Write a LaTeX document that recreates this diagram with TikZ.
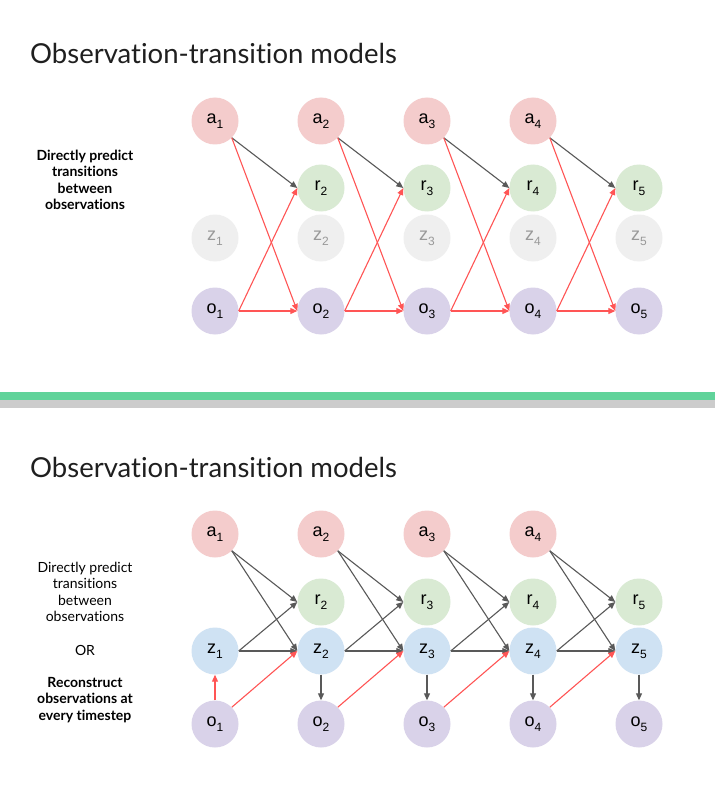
\documentclass[tikz,border=0pt]{standalone}
\usepackage{fontspec}
\setmainfont[Ligatures=NoCommon]{Lato}
\newfontfamily\varfont{Liberation Sans}
\usetikzlibrary{arrows.meta}

\definecolor{actpink}{HTML}{F4CCCC}
\definecolor{rewgreen}{HTML}{D9EAD3}
\definecolor{latgrey}{HTML}{EFEFEF}
\definecolor{latblue}{HTML}{CFE2F3}
\definecolor{obspurple}{HTML}{D9D2E9}
\definecolor{edgegrey}{HTML}{595959}
\definecolor{edgered}{HTML}{FF5555}
\definecolor{bargreen}{HTML}{60D39A}
\definecolor{bargrey}{HTML}{CCCCCC}

\newcommand{\vsub}[2]{#1\raisebox{-5pt}{\fontsize{12}{12}\selectfont #2}}

\tikzset{
	var/.style={circle,minimum size=47pt,inner sep=0pt,font=\varfont\fontsize{18}{18}\selectfont},
	act/.style={var,fill=actpink},
	rew/.style={var,fill=rewgreen},
	lat/.style={var,fill=latgrey,text=black!40},
	latb/.style={var,fill=latblue},
	obs/.style={var,fill=obspurple},
	edge/.style={-{Triangle[length=7pt,width=6pt]},color=edgegrey,line width=1.1pt},
	pred/.style={edge,color=edgered},
	title/.style={anchor=base west,inner sep=0pt,font=\fontsize{27.5}{27.5}\selectfont,text=black!88},
	note/.style={align=center,font=\fontsize{14}{16.5}\selectfont},
	boldnote/.style={note,font=\bfseries\fontsize{14}{16.5}\selectfont}
}

\begin{document}
\begin{tikzpicture}[x=1pt,y=-1pt]
		\useasboundingbox[fill=white] (0,0) rectangle (715,805);

		% upper slide
		\node[title] (title1) at (30,64) {Observation-transition models};
		\node[boldnote] (note1) at (85,180) {Directly predict\\transitions\\between\\observations};

		\node[act] (a1) at (215,121) {\vsub{a}{1}};
		\node[act] (a2) at (321,121) {\vsub{a}{2}};
		\node[act] (a3) at (427,121) {\vsub{a}{3}};
		\node[act] (a4) at (533,121) {\vsub{a}{4}};
		\node[rew] (r2) at (321,188) {\vsub{r}{2}};
		\node[rew] (r3) at (427,188) {\vsub{r}{3}};
		\node[rew] (r4) at (533,188) {\vsub{r}{4}};
		\node[rew] (r5) at (639,188) {\vsub{r}{5}};
		\node[lat] (z1) at (215,238) {\vsub{z}{1}};
		\node[lat] (z2) at (321,238) {\vsub{z}{2}};
		\node[lat] (z3) at (427,238) {\vsub{z}{3}};
		\node[lat] (z4) at (533,238) {\vsub{z}{4}};
		\node[lat] (z5) at (639,238) {\vsub{z}{5}};
		\node[obs] (o1) at (215,311) {\vsub{o}{1}};
		\node[obs] (o2) at (321,311) {\vsub{o}{2}};
		\node[obs] (o3) at (427,311) {\vsub{o}{3}};
		\node[obs] (o4) at (533,311) {\vsub{o}{4}};
		\node[obs] (o5) at (639,311) {\vsub{o}{5}};

		\draw[edge] (a1.south east) -- (r2.west);
		\draw[edge] (a2.south east) -- (r3.west);
		\draw[edge] (a3.south east) -- (r4.west);
		\draw[edge] (a4.south east) -- (r5.west);
		\draw[pred] (a1.south east) -- (o2.west);
		\draw[pred] (a2.south east) -- (o3.west);
		\draw[pred] (a3.south east) -- (o4.west);
		\draw[pred] (a4.south east) -- (o5.west);
		\draw[pred] (o1.east) -- (r2.west);
		\draw[pred] (o2.east) -- (r3.west);
		\draw[pred] (o3.east) -- (r4.west);
		\draw[pred] (o4.east) -- (r5.west);
		\draw[pred] (o1.east) -- (o2.west);
		\draw[pred] (o2.east) -- (o3.west);
		\draw[pred] (o3.east) -- (o4.west);
		\draw[pred] (o4.east) -- (o5.west);

		% divider
		\fill[bargreen] (0,392) rectangle (715,400);
		\fill[bargrey] (0,400) rectangle (715,408);

		% lower slide
		\node[title] (title2) at (30,477) {Observation-transition models};
		\node[note] (note2) at (85,592) {Directly predict\\transitions\\between\\observations};
		\node[note] (or) at (85,650) {OR};
		\node[boldnote] (note3) at (85,700) {Reconstruct\\observations at\\every timestep};

		\node[act] (A1) at (215,534) {\vsub{a}{1}};
		\node[act] (A2) at (321,534) {\vsub{a}{2}};
		\node[act] (A3) at (427,534) {\vsub{a}{3}};
		\node[act] (A4) at (533,534) {\vsub{a}{4}};
		\node[rew] (R2) at (321,602) {\vsub{r}{2}};
		\node[rew] (R3) at (427,602) {\vsub{r}{3}};
		\node[rew] (R4) at (533,602) {\vsub{r}{4}};
		\node[rew] (R5) at (639,602) {\vsub{r}{5}};
		\node[latb] (Z1) at (215,651) {\vsub{z}{1}};
		\node[latb] (Z2) at (321,651) {\vsub{z}{2}};
		\node[latb] (Z3) at (427,651) {\vsub{z}{3}};
		\node[latb] (Z4) at (533,651) {\vsub{z}{4}};
		\node[latb] (Z5) at (639,651) {\vsub{z}{5}};
		\node[obs] (O1) at (215,724) {\vsub{o}{1}};
		\node[obs] (O2) at (321,724) {\vsub{o}{2}};
		\node[obs] (O3) at (427,724) {\vsub{o}{3}};
		\node[obs] (O4) at (533,724) {\vsub{o}{4}};
		\node[obs] (O5) at (639,724) {\vsub{o}{5}};

		\draw[edge] (A1.south east) -- (R2.west);
		\draw[edge] (A2.south east) -- (R3.west);
		\draw[edge] (A3.south east) -- (R4.west);
		\draw[edge] (A4.south east) -- (R5.west);
		\draw[edge] (A1.south east) -- (Z2.west);
		\draw[edge] (A2.south east) -- (Z3.west);
		\draw[edge] (A3.south east) -- (Z4.west);
		\draw[edge] (A4.south east) -- (Z5.west);
		\draw[edge] (Z1.east) -- (R2.west);
		\draw[edge] (Z2.east) -- (R3.west);
		\draw[edge] (Z3.east) -- (R4.west);
		\draw[edge] (Z4.east) -- (R5.west);
		\draw[edge] (Z1.east) -- (Z2.west);
		\draw[edge] (Z2.east) -- (Z3.west);
		\draw[edge] (Z3.east) -- (Z4.west);
		\draw[edge] (Z4.east) -- (Z5.west);
		\draw[edge] (Z2.south) -- (O2.north);
		\draw[edge] (Z3.south) -- (O3.north);
		\draw[edge] (Z4.south) -- (O4.north);
		\draw[edge] (Z5.south) -- (O5.north);
		\draw[pred] (O1.north) -- (Z1.south);
		\draw[pred] (O1.north east) -- (Z2.west);
		\draw[pred] (O2.north east) -- (Z3.west);
		\draw[pred] (O3.north east) -- (Z4.west);
		\draw[pred] (O4.north east) -- (Z5.west);
	\end{tikzpicture}
\end{document}
